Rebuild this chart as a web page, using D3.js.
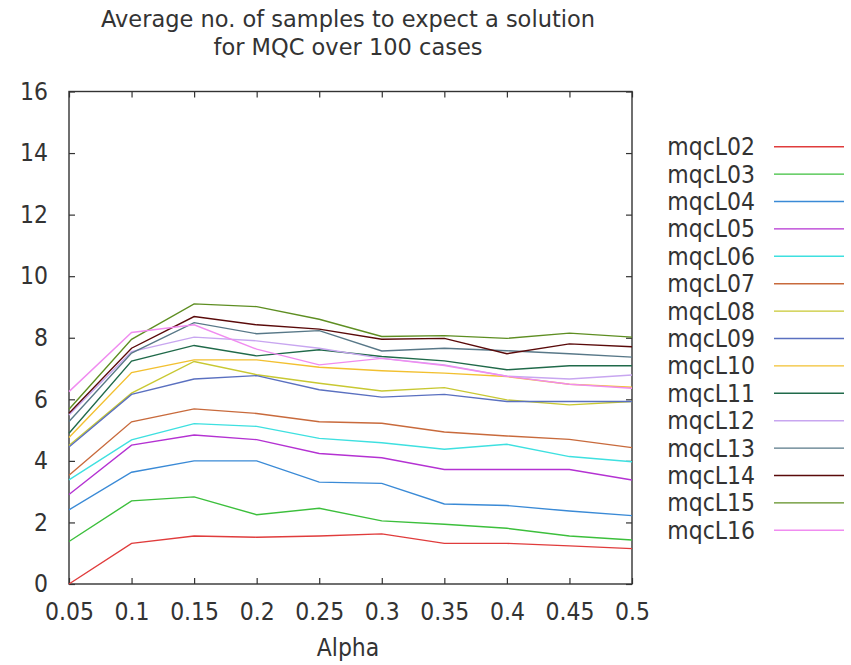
<!DOCTYPE html>
<html>
<head>
<meta charset="utf-8">
<script src="https://cdn.jsdelivr.net/npm/d3@7"></script>
<style>
  body { margin: 0; background: #fff; }
  text { font-family: "DejaVu Sans", sans-serif; fill: #333; }
</style>
</head>
<body>
<div id="chart"></div>
<script>
// alpha values on the x axis
let alphas = [0.05, 0.1, 0.15, 0.2, 0.25, 0.3, 0.35, 0.4, 0.45, 0.5]
let xTicks = ["0.05", "0.1", "0.15", "0.2", "0.25", "0.3", "0.35", "0.4", "0.45", "0.5"]
let yTicks = [0, 2, 4, 6, 8, 10, 12, 14, 16]

let seriesNames = ["mqcL02", "mqcL03", "mqcL04", "mqcL05", "mqcL06", "mqcL07", "mqcL08",
    "mqcL09", "mqcL10", "mqcL11", "mqcL12", "mqcL13", "mqcL14", "mqcL15", "mqcL16"]
let seriesColors = ["#e03c3c", "#3cbf3c", "#3a8ad6", "#b432d2", "#3ee0e0", "#c86a3c", "#c8c832",
    "#5a70c0", "#f2c030", "#206a4a", "#c8a6f0", "#587888", "#5a0a0a", "#5e8e22", "#f08cf0"]

let mqcL02 = [0.00, 1.32, 1.56, 1.52, 1.56, 1.63, 1.32, 1.32, 1.24, 1.15]
let mqcL03 = [1.38, 2.70, 2.83, 2.25, 2.46, 2.05, 1.94, 1.81, 1.56, 1.43]
let mqcL04 = [2.41, 3.63, 4.00, 4.00, 3.31, 3.27, 2.60, 2.55, 2.37, 2.22]
let mqcL05 = [2.91, 4.51, 4.84, 4.69, 4.24, 4.10, 3.72, 3.72, 3.72, 3.38]
let mqcL06 = [3.38, 4.68, 5.21, 5.12, 4.73, 4.59, 4.38, 4.54, 4.14, 3.97]
let mqcL07 = [3.53, 5.27, 5.69, 5.54, 5.27, 5.22, 4.94, 4.81, 4.70, 4.43]
let mqcL08 = [4.50, 6.20, 7.23, 6.80, 6.52, 6.27, 6.38, 5.98, 5.82, 5.93]
let mqcL09 = [4.45, 6.16, 6.66, 6.77, 6.31, 6.07, 6.16, 5.93, 5.93, 5.93]
let mqcL10 = [4.76, 6.87, 7.28, 7.28, 7.04, 6.93, 6.85, 6.74, 6.49, 6.39]
let mqcL11 = [4.90, 7.24, 7.75, 7.41, 7.61, 7.39, 7.25, 6.96, 7.09, 7.09]
let mqcL12 = [5.49, 7.55, 8.02, 7.90, 7.66, 7.33, 7.12, 6.75, 6.66, 6.79]
let mqcL13 = [5.28, 7.50, 8.49, 8.13, 8.23, 7.57, 7.66, 7.58, 7.48, 7.37]
let mqcL14 = [5.55, 7.66, 8.69, 8.42, 8.28, 7.95, 7.98, 7.48, 7.80, 7.71]
let mqcL15 = [5.68, 7.95, 9.10, 9.01, 8.60, 8.04, 8.07, 7.98, 8.15, 8.02]
let mqcL16 = [6.25, 8.17, 8.42, 7.63, 7.12, 7.33, 7.10, 6.75, 6.49, 6.36]

let allValues = [mqcL02, mqcL03, mqcL04, mqcL05, mqcL06, mqcL07, mqcL08, mqcL09,
    mqcL10, mqcL11, mqcL12, mqcL13, mqcL14, mqcL15, mqcL16]

let W = 851, H = 665
let MARGIN = {LEFT: 69, RIGHT: 219, TOP: 91.5, BOTTOM: 81}
let WIDTH = W - MARGIN.LEFT - MARGIN.RIGHT
let HEIGHT = H - MARGIN.TOP - MARGIN.BOTTOM
let STRETCH = 1.1   // text in the picture is a bit taller than wide

let svg = d3.select("#chart").append("svg")
    .attr("width", W)
    .attr("height", H)

let g = svg.append("g")
    .attr("transform", `translate(${MARGIN.LEFT}, ${MARGIN.TOP})`)

let x = d3.scaleLinear().domain([0.05, 0.5]).range([0, WIDTH])
let y = d3.scaleLinear().domain([0, 16]).range([HEIGHT, 0])

// title
svg.append("text")
    .attr("x", 348).attr("y", 27)
    .attr("text-anchor", "middle")
    .attr("font-size", "22.5px")
    .text("Average no. of samples to expect a solution")
svg.append("text")
    .attr("x", 348).attr("y", 55)
    .attr("text-anchor", "middle")
    .attr("font-size", "22.5px")
    .text("for MQC over 100 cases")

// axes, ticks point inward and are mirrored like gnuplot
let xAxisCall = d3.axisBottom(x)
    .tickValues(alphas)
    .tickFormat((d, i) => xTicks[i])
    .tickSizeInner(-6).tickSizeOuter(0).tickPadding(17)
g.append("g")
    .attr("class", "x axis")
    .attr("transform", `translate(0, ${HEIGHT})`)
    .call(xAxisCall)
g.append("g")
    .call(d3.axisTop(x).tickValues(alphas).tickFormat("").tickSizeInner(-6).tickSizeOuter(0))

let yAxisCall = d3.axisLeft(y)
    .tickValues(yTicks)
    .tickFormat(d => d)
    .tickSizeInner(-6).tickSizeOuter(0).tickPadding(21)
g.append("g")
    .attr("class", "y axis")
    .call(yAxisCall)
g.append("g")
    .attr("transform", `translate(${WIDTH}, 0)`)
    .call(d3.axisRight(y).tickValues(yTicks).tickFormat("").tickSizeInner(-6).tickSizeOuter(0))

g.selectAll(".domain").remove()
g.selectAll(".tick line").attr("stroke", "#333").attr("stroke-width", 1.2)
g.selectAll(".tick text")
    .attr("font-size", "22px")
    .attr("font-family", "DejaVu Sans, sans-serif")
    .attr("fill", "#333")
    .attr("transform", `scale(1, ${STRETCH})`)

// frame
g.append("rect")
    .attr("x", 0).attr("y", 0)
    .attr("width", WIDTH).attr("height", HEIGHT)
    .attr("fill", "none")
    .attr("stroke", "#333")
    .attr("stroke-width", 1.4)

// X label
svg.append("text")
    .attr("transform", `translate(348, 656) scale(1, ${STRETCH})`)
    .attr("text-anchor", "middle")
    .attr("font-size", "22px")
    .text("Alpha")

// lines
let line = d3.line()
    .x((d, i) => x(alphas[i]))
    .y(d => y(d))

g.selectAll("path.series")
    .data(allValues)
    .enter().append("path")
    .attr("class", "series")
    .attr("d", d => line(d))
    .attr("fill", "none")
    .attr("stroke", (d, i) => seriesColors[i])
    .attr("stroke-width", 1.4)

// legend
let legend = svg.append("g")
let rowH = 27.4
seriesNames.forEach((name, i) => {
    let cy = 146.7 + i * rowH
    legend.append("text")
        .attr("transform", `translate(755, ${cy}) scale(1, ${STRETCH})`)
        .attr("dy", "0.35em")
        .attr("text-anchor", "end")
        .attr("font-size", "22px")
        .text(name)
    legend.append("line")
        .attr("x1", 774).attr("x2", 844)
        .attr("y1", cy).attr("y2", cy)
        .attr("stroke", seriesColors[i])
        .attr("stroke-width", 1.4)
})
</script>
</body>
</html>
